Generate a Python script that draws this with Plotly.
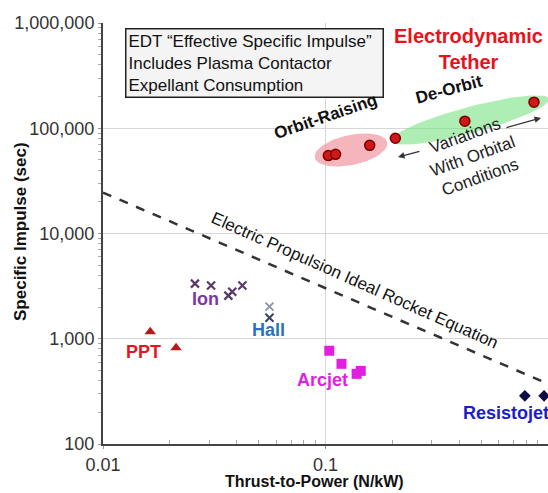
import numpy as np
import plotly.graph_objects as go

# ---------------- data ----------------
edt_x = [0.103, 0.111, 0.158, 0.206, 0.423, 0.865]
edt_y = [55000, 56500, 68800, 80300, 116700, 177000]

ion_x = [0.0259, 0.0306, 0.0366, 0.0381, 0.0423]
ion_y = [3340, 3200, 2570, 2800, 3200]

hall_x = [0.056, 0.056]
hall_y = [2020, 1585]

ppt_x = [0.0163, 0.0213]
ppt_y = [1167, 820]

arcjet_x = [0.104, 0.118, 0.138, 0.144]
arcjet_y = [769, 578, 464, 495]

resisto_x = [0.787, 0.96]
resisto_y = [287, 287]

rocket_x = [0.01, 1.0]
rocket_y = [24500, 373]

y_tickvals = [100, 1000, 10000, 100000, 1000000]
y_ticktext = ["100", "1,000", "10,000", "100,000", "1,000,000"]
x_tickvals = [0.01, 0.1, 1]
x_ticktext = ["0.01", "0.1", "1"]

x_minor = [m * d for d in [0.01, 0.1] for m in range(2, 10)]
y_minor = [m * d for d in [100, 1000, 10000, 100000] for m in range(2, 10)]

# ---------------- layout geometry ----------------
W, H = 548, 493
L, R, T, B = 103, 0, 23, 49
PW, PH = W - L - R, H - T - B
XR = [-2, 0.0]
YR = [2, 6]

def px2paper(px, py):
    return (px - L) / PW, (H - B - py) / PH

def ellipse(cx_px, cy_px, a, b, ang_deg, n=90):
    # ellipse outline drawn in pixel space, converted to data values
    t = np.linspace(0, 2 * np.pi, n)
    th = np.deg2rad(ang_deg)
    ex = a * np.cos(t)
    ey = b * np.sin(t)
    px = cx_px + ex * np.cos(th) + ey * np.sin(th)
    py = cy_px - (ex * np.sin(th) - ey * np.cos(th))
    lx = XR[0] + (px - L) / PW * (XR[1] - XR[0])
    ly = YR[1] - (py - T) / PH * (YR[1] - YR[0])
    return 10 ** lx, 10 ** ly

SANS = "Liberation Sans, Arial, sans-serif"

fig = go.Figure()

# ellipses
gx, gy = ellipse(470, 120, 82, 13, 15)
fig.add_trace(go.Scatter(x=gx, y=gy, mode="lines", fill="toself",
                         fillcolor="rgba(120,225,130,0.6)", line=dict(width=0),
                         hoverinfo="skip", showlegend=False))
rx, ry = ellipse(351, 150, 37, 15, 12)
fig.add_trace(go.Scatter(x=rx, y=ry, mode="lines", fill="toself",
                         fillcolor="rgba(240,150,160,0.7)", line=dict(width=0),
                         hoverinfo="skip", showlegend=False))

# rocket equation line
fig.add_trace(go.Scatter(x=rocket_x, y=rocket_y, mode="lines",
                         line=dict(color="#333333", width=2.5, dash="dash"),
                         showlegend=False))

# points
fig.add_trace(go.Scatter(x=edt_x, y=edt_y, mode="markers",
                         marker=dict(symbol="circle", size=10, color="#d01818",
                                     line=dict(color="#7a0000", width=1.5)),
                         showlegend=False))
fig.add_trace(go.Scatter(x=ion_x, y=ion_y, mode="markers",
                         marker=dict(symbol="x-thin", size=8,
                                     line=dict(color="#5a3a68", width=2.2)),
                         showlegend=False))
fig.add_trace(go.Scatter(x=hall_x, y=hall_y, mode="markers",
                         marker=dict(symbol="x-thin", size=8,
                                     line=dict(color=["#9097a8", "#3e4058"], width=2)),
                         showlegend=False))
fig.add_trace(go.Scatter(x=ppt_x, y=ppt_y, mode="markers",
                         marker=dict(symbol="triangle-up", size=10, color="#b51a1a"),
                         showlegend=False))
fig.add_trace(go.Scatter(x=arcjet_x, y=arcjet_y, mode="markers",
                         marker=dict(symbol="square", size=10, color="#e21ee2"),
                         showlegend=False))
fig.add_trace(go.Scatter(x=resisto_x, y=resisto_y, mode="markers",
                         marker=dict(symbol="diamond", size=9, color="#0b0b45"),
                         showlegend=False))

ann = []

def text(px, py, s, size, color="#111111", bold=False, angle=0, align="center"):
    x, y = px2paper(px, py)
    if bold:
        s = "<b>" + s + "</b>"
    ann.append(dict(x=x, y=y, xref="paper", yref="paper", text=s, showarrow=False,
                    textangle=angle, align=align, xanchor="center", yanchor="middle",
                    font=dict(size=size, color=color, family=SANS)))

# info box
bx0, by0 = px2paper(125, 99)
bx1, by1 = px2paper(380, 28)
ann.append(dict(x=bx0, y=(by0 + by1) / 2, xref="paper", yref="paper",
                text="EDT \u201cEffective Specific Impulse\u201d<br>Includes Plasma Contactor<br>Expellant Consumption",
                showarrow=False, align="left", xanchor="left", yanchor="middle",
                font=dict(size=17, color="#111111", family=SANS),
                bordercolor="#222222", borderwidth=1.5, borderpad=2,
                bgcolor="#f4f4f4", width=252))

text(468, 49, "Electrodynamic<br>Tether", 20, color="#e8121c", bold=True)
text(449, 90, "De-Orbit", 17, bold=True, angle=-15)
text(326, 117, "Orbit-Raising", 17, bold=True, angle=-19)
text(472, 156, "Variations<br>With Orbital<br>Conditions", 17, color="#222222", angle=-20)
text(355, 280, "Electric Propulsion Ideal Rocket Equation", 17, color="#111111", angle=24)
text(205, 299, "Ion", 18, color="#7a38a8", bold=True)
text(268, 330, "Hall", 18, color="#2a72c0", bold=True)
text(143, 352, "PPT", 18, color="#e8141c", bold=True)
text(322, 380, "Arcjet", 18, color="#e21ee2", bold=True)
text(506, 413, "Resistojet", 18, color="#1c1ccc", bold=True)

# axis titles
text(20, 232, "Specific Impulse (sec)", 17, bold=True, angle=-90)
text(314, 481, "Thrust-to-Power (N/kW)", 16, bold=True)

# arrows
for hx, hy, tx, ty in [(398, 157, 421, 151), (541, 118, 505, 128)]:
    x, y = px2paper(hx, hy)
    ann.append(dict(x=x, y=y, xref="paper", yref="paper", ax=tx - hx, ay=ty - hy,
                    showarrow=True, arrowhead=2, arrowsize=1, arrowwidth=1.3,
                    arrowcolor="#333333", text=""))

fig.update_layout(
    width=W, height=H,
    margin=dict(l=L, r=R, t=T, b=B),
    plot_bgcolor="white", paper_bgcolor="white",
    annotations=ann,
    xaxis=dict(type="log", range=XR, tickvals=x_tickvals, ticktext=x_ticktext,
               showgrid=True, gridcolor="#d6d6d6", gridwidth=1,
               showline=True, linecolor="#444444", linewidth=2,
               ticks="outside", ticklen=3, tickcolor="#999999",
               minor=dict(tickvals=x_minor, ticks="inside", ticklen=4,
                          tickcolor="#aaaaaa", showgrid=False),
               tickfont=dict(size=18, color="#333333", family=SANS),
               zeroline=False),
    yaxis=dict(type="log", range=YR, tickvals=y_tickvals, ticktext=y_ticktext,
               showgrid=True, gridcolor="#d6d6d6", gridwidth=1,
               showline=True, linecolor="#444444", linewidth=2,
               ticks="outside", ticklen=3, tickcolor="#999999",
               minor=dict(tickvals=y_minor, ticks="outside", ticklen=3,
                          tickcolor="#aaaaaa", showgrid=False),
               tickfont=dict(size=18, color="#333333", family=SANS),
               zeroline=False),
)

fig.write_html("out.html", config={"displayModeBar": False},
               post_script="document.body.style.margin='0';document.body.style.overflow='hidden';")
